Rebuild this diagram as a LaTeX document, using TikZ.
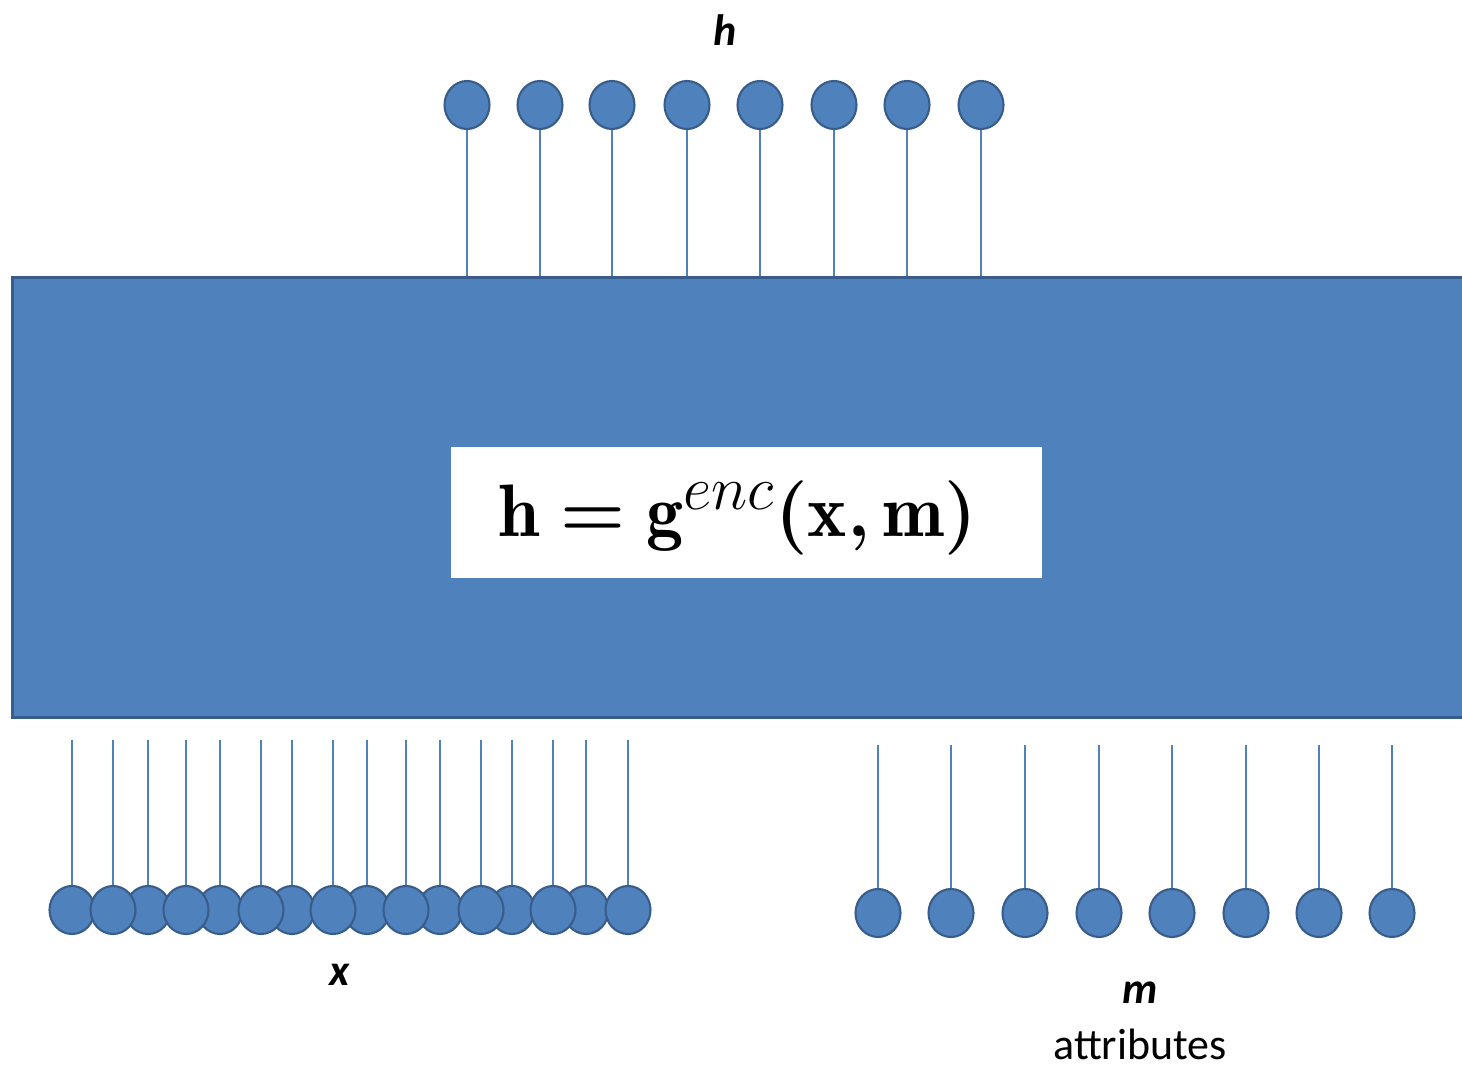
\documentclass[tikz,border=0pt]{standalone}
\usepackage{amsmath}
\usepackage{fontspec}
\newfontfamily\labelfont{Carlito}
\usepackage{tikz}
\usetikzlibrary{positioning,shapes.geometric}
\definecolor{encblue}{RGB}{79,129,189}
\definecolor{encedge}{RGB}{56,93,138}
\newcommand{\enceq}{$\mathbf{h}\mathrel{\textbf{=}}\mathbf{g}^{enc}\mathopen{\textbf{(}}\mathbf{x}\mathpunct{\textbf{,}}\mathbf{m}\mathclose{\textbf{)}}$}
\tikzset{
  unit/.style={ellipse, draw=encedge, line width=1.2pt, fill=encblue,
               minimum width=0.9cm, minimum height=0.96cm, inner sep=0pt},
  stem/.style={encblue, line width=1pt},
  encbox/.style={draw=encedge, line width=1.7pt, fill=encblue,
                 minimum width=29.36cm, minimum height=8.82cm},
  eqbox/.style={fill=white, minimum width=11.82cm, minimum height=2.62cm},
  lbl/.style={font=\labelfont\fontsize{25}{28}\selectfont\bfseries\itshape},
}

\begin{document}
\begin{tikzpicture}[x=0.02cm,y=-0.02cm]
  \useasboundingbox (0,0) rectangle (1462,1070);
  \node[encbox] (enc) at (746,497.5) {};
  \node[eqbox] (eq) at (746.5,512.5) {};
  \node[font=\Huge, scale=1.7] (eqtext) at (738,518) {\enceq};
  % outputs h
  \foreach \xx [count=\i] in {467,540,612,687,760,834,907,981}{
    \node[unit] (h\i) at (\xx,105) {};
    \draw[stem] (h\i) -- (h\i |- enc.north);}
  \node[lbl] (hlab) at (725,30) {h};
  % inputs x
  \coordinate (xtop) at (0,740);
  \foreach \xx [count=\i] in {72,148,220,292,367,440,512,586}{
    \node[unit] (xa\i) at (\xx,910) {};
    \draw[stem] (xa\i) -- (xa\i |- xtop);}
  \foreach \xx [count=\i] in {113,186,261,333,406,481,553,628}{
    \node[unit] (xb\i) at (\xx,910) {};
    \draw[stem] (xb\i) -- (xb\i |- xtop);}
  \node[lbl] (xlab) at (340,975) {x};
  % attributes m
  \coordinate (mtop) at (0,745);
  \foreach \xx [count=\i] in {878,951,1025,1099,1172,1246,1319,1392}{
    \node[unit] (m\i) at (\xx,913) {};
    \draw[stem] (m\i) -- (m\i |- mtop);}
  \node[lbl] (mlab) at (1140,993) {m};
  \node[font=\labelfont\fontsize{25}{28}\selectfont, inner sep=1pt] (attr) at (1140,1044) {attributes};
\end{tikzpicture}
\end{document}
